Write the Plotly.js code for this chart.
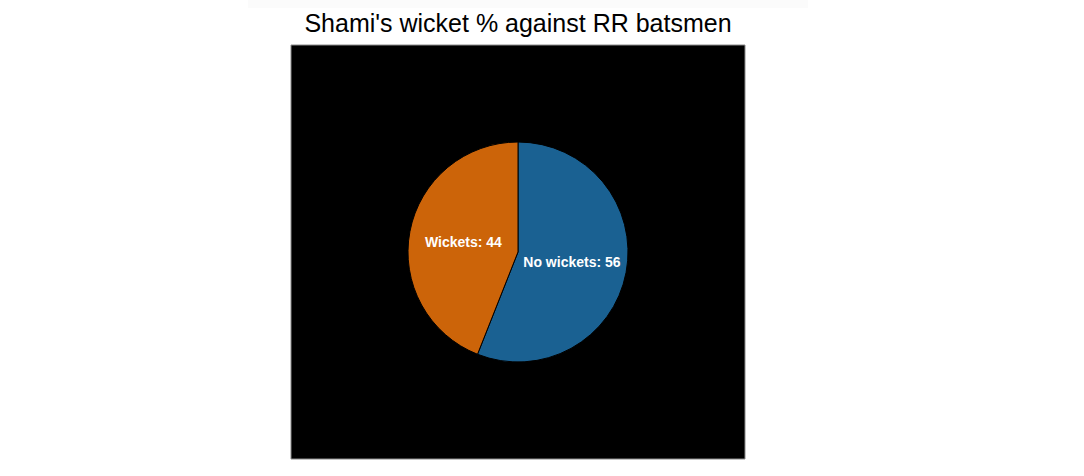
<!DOCTYPE html>
<html>
<head>
<meta charset="utf-8">
<script src="https://cdn.plot.ly/plotly-3.0.1.min.js"></script>
<style>html,body{margin:0;padding:0;background:#fff;}#chart{width:1084px;height:476px;}</style>
</head>
<body>
<div id="chart"></div>
<script>
const labels = ["No wickets", "Wickets"];
const values = [56, 44];
const sliceColors = ["#1a6192", "#cc6409"];
const chartTitle = "Shami's wicket % against RR batsmen";

const trace = {
  type: "pie",
  labels: labels,
  values: values,
  sort: false,
  direction: "clockwise",
  rotation: 0,
  marker: {colors: sliceColors, line: {color: "#000000", width: 1}},
  texttemplate: "%{label}: %{value}",
  textposition: "inside",
  insidetextorientation: "horizontal",
  textfont: {family: "Liberation Sans, Arial, sans-serif", size: 14, color: "#ffffff", weight: "bold"},
  hoverinfo: "label+value",
  showlegend: false,
  domain: {x: [0.2577, 0.7423], y: [0.2343, 0.7657]}
};

const layout = {
  width: 1084,
  height: 476,
  margin: {l: 291, r: 339, t: 45, b: 17},
  paper_bgcolor: "#ffffff",
  title: {
    text: chartTitle,
    font: {family: "Liberation Sans, Arial, sans-serif", size: 25, color: "#000000"},
    x: 0.5, xref: "paper", xanchor: "center",
    y: 0.952, yref: "container", yanchor: "middle"
  },
  shapes: [
    {type: "rect", xref: "paper", yref: "paper", x0: 0, x1: 1, y0: 0, y1: 1,
     fillcolor: "#000000", line: {color: "#8a8a8a", width: 1}, layer: "below"},
    {type: "rect", xref: "paper", yref: "paper", x0: -0.0947, x1: 1.1388, y0: 1.0894, y1: 1.1087,
     fillcolor: "#fbfbfb", line: {width: 0}, layer: "below"}
  ]
};

Plotly.newPlot("chart", [trace], layout, {displayModeBar: false, staticPlot: true});
</script>
</body>
</html>
